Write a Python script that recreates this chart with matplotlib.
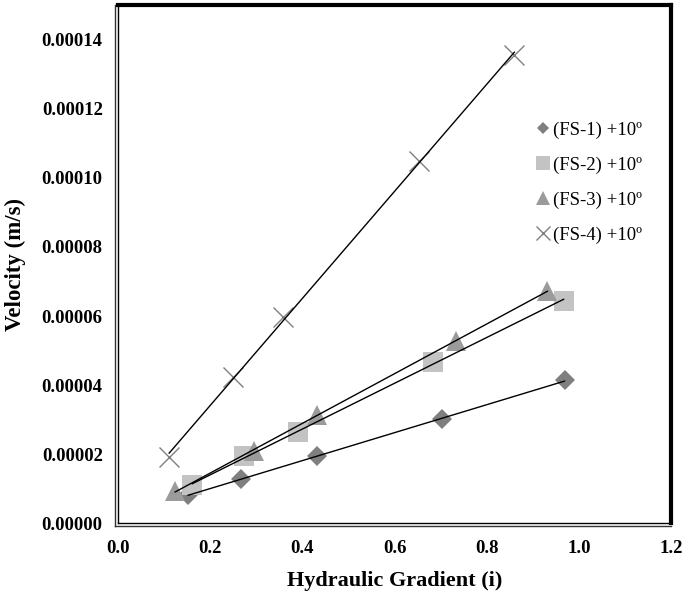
"""
Velocity vs hydraulic gradient for four FS samples at +10 degrees,
scatter points with linear trendlines (Excel style chart).
"""

import numpy as np
import matplotlib.pyplot as plt
from matplotlib.lines import Line2D

# data
fs1_i = [0.152, 0.266, 0.431, 0.703, 0.969]
fs1_v = [0.81e-5, 1.30e-5, 1.94e-5, 3.01e-5, 4.14e-5]

fs2_i = [0.161, 0.274, 0.390, 0.684, 0.967]
fs2_v = [1.10e-5, 1.94e-5, 2.66e-5, 4.66e-5, 6.45e-5]

fs3_i = [0.124, 0.294, 0.431, 0.734, 0.932]
fs3_v = [0.93e-5, 2.11e-5, 3.13e-5, 5.27e-5, 6.74e-5]

fs4_i = [0.111, 0.250, 0.357, 0.653, 0.860]
fs4_v = [1.91e-5, 4.23e-5, 5.96e-5, 10.48e-5, 13.55e-5]

labels = ["(FS-1) +10º", "(FS-2) +10º", "(FS-3) +10º", "(FS-4) +10º"]
x_ticks = [0.0, 0.2, 0.4, 0.6, 0.8, 1.0, 1.2]
y_ticks = [0.0, 0.00002, 0.00004, 0.00006, 0.00008, 0.00010, 0.00012, 0.00014]

SERIF = ["Liberation Serif", "DejaVu Serif"]


def main():
    plt.rcParams["font.family"] = SERIF
    fig = plt.figure(figsize=(6.87, 5.95), dpi=100)
    ax = fig.add_axes([0.1718, 0.1202, 0.8049, 0.8714])

    styles = [
        dict(marker="D", color="#7f7f7f", ms=10),
        dict(marker="s", color="#c3c3c3", ms=14.4),
        dict(marker="^", color="#9b9b9b", ms=14.4),
        dict(marker="x", color="#7f7f7f", ms=14.4, mew=1.0),
    ]
    series = [(fs1_i, fs1_v), (fs2_i, fs2_v), (fs3_i, fs3_v), (fs4_i, fs4_v)]

    for (xs, ys), st, lab in zip(series, styles, labels):
        ax.plot(xs, ys, linestyle="none", marker=st["marker"], color=st["color"],
                markersize=st["ms"], markeredgewidth=st.get("mew", 0),
                label=lab, zorder=3)

    # linear trendlines, drawn over the markers like Excel does
    for xs, ys in series:
        k, b = np.polyfit(xs, ys, 1)
        xx = np.array([min(xs), max(xs)])
        ax.plot(xx, k * xx + b, color="black", lw=1.0, zorder=4)

    ax.set_xlim(0, 1.2)
    ax.set_ylim(0, 0.00015)
    ax.set_xticks(x_ticks)
    ax.set_yticks(y_ticks)
    ax.set_xticklabels([f"{t:.1f}" for t in x_ticks])
    ax.set_yticklabels([f"{t:.5f}" for t in y_ticks])
    ax.tick_params(axis="both", length=0, labelsize=13.5)
    ax.tick_params(axis="x", pad=12)
    ax.tick_params(axis="y", pad=11)
    for lab in ax.get_xticklabels() + ax.get_yticklabels():
        lab.set_fontweight("bold")

    ax.set_xlabel("Hydraulic Gradient (i)", fontsize=16, fontweight="bold", labelpad=10)
    ax.set_ylabel("Velocity (m/s)", fontsize=16.5, fontweight="bold", labelpad=11)

    # frame: thick black top/right, double thin lines left/bottom
    ax.spines["top"].set_linewidth(3.0)
    ax.spines["right"].set_linewidth(3.0)
    ax.spines["left"].set_linewidth(1.0)
    ax.spines["bottom"].set_linewidth(1.0)
    off_x = 3.0 / (0.8049 * 687)
    off_y = 3.0 / (0.8714 * 595)
    ax.add_line(Line2D([-off_x, -off_x], [-off_y, 1], transform=ax.transAxes,
                       color="#333333", lw=1.0, clip_on=False))
    ax.add_line(Line2D([-off_x, 1], [-off_y, -off_y], transform=ax.transAxes,
                       color="#333333", lw=1.0, clip_on=False))

    ax.legend(loc="upper left", bbox_to_anchor=(0.742, 0.79), frameon=False,
              fontsize=13.5, handlelength=0.8, handletextpad=0.1,
              labelspacing=0.95, borderaxespad=0, markerscale=0.65)

    fig.savefig("out.png", dpi=100)
    plt.close(fig)


if __name__ == "__main__":
    main()
